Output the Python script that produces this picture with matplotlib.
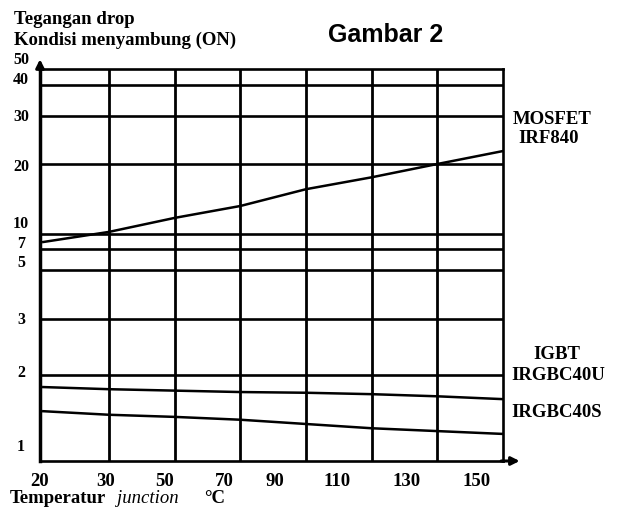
import matplotlib
matplotlib.use("Agg")  # headless

import matplotlib.pyplot as plt
import numpy as np

# temperatures at the vertical grid lines (deg C)
temp_c = [20, 40, 60, 80, 100, 120, 140, 160]

# on-state voltage drop
mosfet_irf840 = [8.4, 10.3, 12.3, 14.0, 16.4, 18.1, 20.0, 22.7]
igbt_irgbc40u = [1.83, 1.80, 1.78, 1.76, 1.75, 1.73, 1.70, 1.66]
igbt_irgbc40s = [1.49, 1.44, 1.41, 1.37, 1.31, 1.25, 1.21, 1.17]

xtick_labels = ["20", "30", "50", "70", "90", "110", "130", "150"]
ytick_labels = ["1", "2", "3", "5", "7", "10", "20", "30", "40", "50"]
y_grid = [2, 3, 5, 7, 10, 20, 30, 40]
x_grid = [40, 60, 80, 100, 120, 140]

# the hand drawn axis is neither linear nor log: value -> height (px) knots
KNOT_VALS = np.array([0.5, 1, 2, 3, 5, 7, 10, 20, 30, 40, 50])
KNOT_H = np.array([-20.5, 15, 86, 142, 191, 212, 227, 297, 345, 376, 410])
# label heights (px above the x axis) - the scan's labels drift off the grid
YLABEL_H = [15, 89, 142, 199, 218, 238, 295, 345, 382, 402]
# where the x labels sit on the (linear) temperature axis
XTICK_AT = [19, 39, 57, 75, 90.5, 109.5, 130.5, 152]

SERIF = "Liberation Serif"
SANS = "Liberation Sans"
W, H = 617, 510


def fwd(v):
    return np.interp(v, KNOT_VALS, KNOT_H)


def inv(h):
    return np.interp(h, KNOT_H, KNOT_VALS)


def fx(px):
    return px / W


def fy(py):
    return 1 - py / H


fig = plt.figure(figsize=(W / 100, H / 100), dpi=100, facecolor="white")
ax = fig.add_axes([fx(40), fy(462), 463 / W, 392 / H])
ax.set_yscale("function", functions=(fwd, inv))
ax.set_xlim(20, 160)
ax.set_ylim(inv(0), inv(392))

for v in y_grid:
    ax.axhline(v, color="black", lw=1.9, zorder=1)
for t in x_grid:
    ax.axvline(t, color="black", lw=2.0, zorder=1)

for series in (mosfet_irf840, igbt_irgbc40u, igbt_irgbc40s):
    ax.plot(temp_c, series, color="black", lw=1.8, zorder=2)

for s in ax.spines.values():
    s.set_linewidth(1.9)
ax.spines["left"].set_linewidth(2.5)

ax.set_yticks([])
ax.set_xticks(XTICK_AT, labels=xtick_labels)
ax.tick_params(axis="x", length=0, pad=8)
for lbl in ax.get_xticklabels():
    lbl.set_fontfamily(SERIF)
    lbl.set_fontweight("bold")
    lbl.set_fontsize(13.5)

for h, lab in zip(YLABEL_H, ytick_labels):
    ax.text(-19 / 463, inv(h), lab,
            transform=ax.get_yaxis_transform(), ha="center", va="center",
            fontsize=11.5, fontweight="bold", family=SERIF, clip_on=False)

# axis arrows
ax.annotate("", xy=(0, 1.032), xytext=(0, 0.99), xycoords="axes fraction",
            arrowprops=dict(arrowstyle="-|>", color="black", lw=2.2,
                            mutation_scale=12))
ax.annotate("", xy=(1.042, 0), xytext=(0.99, 0), xycoords="axes fraction",
            arrowprops=dict(arrowstyle="-|>", color="black", lw=2.2,
                            mutation_scale=12))

# titles and labels
bold = dict(family=SERIF, fontweight="bold", fontsize=13.5, va="center")
fig.text(fx(14), fy(19), "Tegangan drop", ha="left", **bold)
fig.text(fx(14), fy(40), "Kondisi menyambung (ON)", ha="left", **bold)
fig.text(fx(386), fy(35), "Gambar 2", ha="center", va="center",
         family=SANS, fontweight="bold", fontsize=18)

fig.text(fx(513), fy(119), "MOSFET", ha="left", **bold)
fig.text(fx(518), fy(139), "IRF840", ha="left", **bold)
fig.text(fx(533), fy(355), "IGBT", ha="left", **bold)
fig.text(fx(511), fy(376), "IRGBC40U", ha="left", **bold)
fig.text(fx(511), fy(413), "IRGBC40S", ha="left", **bold)

fig.text(fx(10), fy(499), "Temperatur", ha="left", **bold)
fig.text(fx(117), fy(499), "junction", ha="left", va="center",
         family=SERIF, style="italic", fontsize=13.5)
fig.text(fx(204), fy(499), "\u00b0C", ha="left", **bold)

fig.savefig("out.png", dpi=100, facecolor="white")
plt.close(fig)
